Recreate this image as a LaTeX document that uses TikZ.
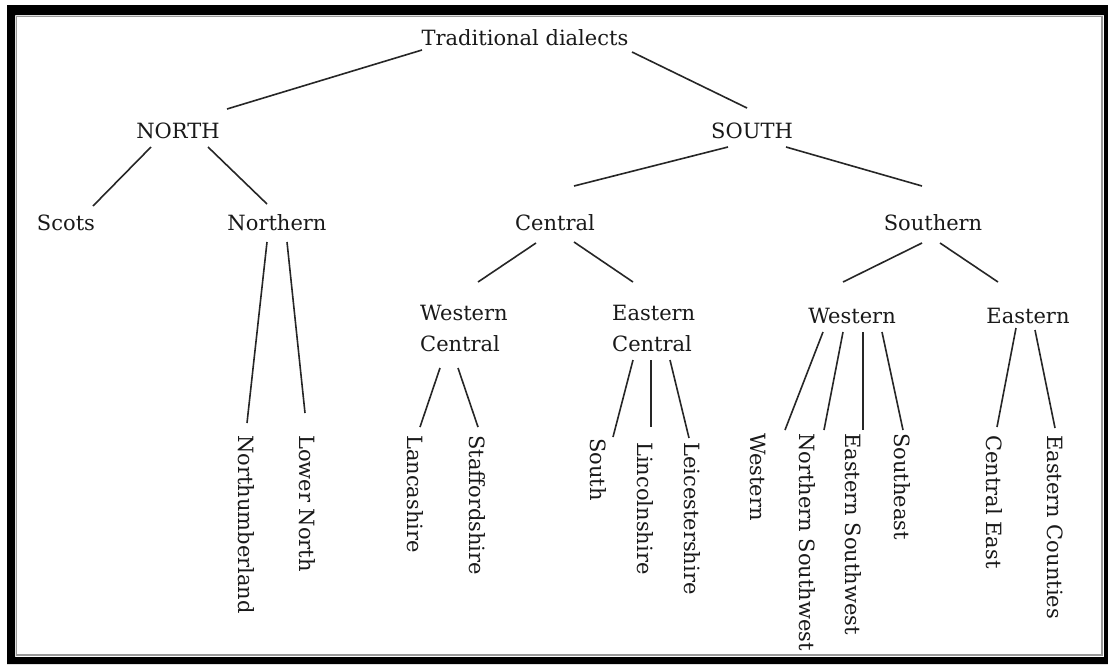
\documentclass[tikz,border=0pt]{standalone}
\usepackage{fontspec}
\setmainfont{DejaVu Serif}
\usetikzlibrary{calc}
\tikzset{
  lbl/.style={inner sep=0pt, anchor=base, text=black!90, font=\fontsize{21}{25}\selectfont},
  two/.style={inner sep=0pt, anchor=north west, align=left, text=black!90, font=\fontsize{21}{31}\selectfont},
  leaf/.style={inner sep=0pt, anchor=west, rotate=-90, text=black!90, font=\fontsize{21}{25}\selectfont},
  edge/.style={draw=black!85, line width=1.6pt}
}
\begin{document}
\begin{tikzpicture}[x=1pt,y=-1pt]
\useasboundingbox (0,0) rectangle (1108,664);
\fill[white] (0,0) rectangle (1108,664);
% frame
\fill[black, even odd rule] (7,5) rectangle (1108,664) (15,15) rectangle (1104,657);
\draw[black!40, line width=1.5pt] (16.5,16.5) rectangle (1102,655);
% nodes
\node[lbl] (trad) at (525,45) {Traditional dialects};
\node[lbl] (north) at (178,138) {NORTH};
\node[lbl] (south) at (752,138) {SOUTH};
\node[lbl] (scots) at (66,230) {Scots};
\node[lbl] (northern) at (277,230) {Northern};
\node[lbl] (central) at (555,230) {Central};
\node[lbl] (southern) at (933,230) {Southern};
\node[two] (wc) at (420,305) {Western\\Central};
\node[two] (ec) at (612,305) {Eastern\\Central};
\node[lbl] (west) at (852,323) {Western};
\node[lbl] (east) at (1028,323) {Eastern};
\node[leaf] (nland) at (246,435) {Northumberland};
\node[leaf] (lnorth) at (307,435) {Lower North};
\node[leaf] (lanc) at (415,435) {Lancashire};
\node[leaf] (staff) at (477,435) {Staffordshire};
\node[leaf] (sth) at (598,438) {South};
\node[leaf] (linc) at (645,442) {Lincolnshire};
\node[leaf] (leic) at (692,442) {Leicestershire};
\node[leaf] (wleaf) at (758,433) {Western};
\node[leaf] (nsw) at (807,433) {Northern Southwest};
\node[leaf] (esw) at (853,433) {Eastern Southwest};
\node[leaf] (se) at (902,433) {Southeast};
\node[leaf] (ce) at (994,435) {Central East};
\node[leaf] (ecs) at (1055,435) {Eastern Counties};
% edges
\draw[edge] ($(trad.base)+(-103,5)$) -- ($(north.base)+(49,-29)$);
\draw[edge] ($(trad.base)+(107,7)$) -- ($(south.base)+(-5,-30)$);
\draw[edge] ($(north.base)+(-27,9)$) -- ($(scots.base)+(27,-24)$);
\draw[edge] ($(north.base)+(30,9)$) -- ($(northern.base)+(-10,-26)$);
\draw[edge] ($(south.base)+(-24,9)$) -- ($(central.base)+(19,-44)$);
\draw[edge] ($(south.base)+(34,9)$) -- ($(southern.base)+(-11,-44)$);
\draw[edge] ($(northern.base)+(-10,12)$) -- ($(nland.west)+(1,-12)$);
\draw[edge] ($(northern.base)+(10,12)$) -- ($(lnorth.west)+(-2,-22)$);
\draw[edge] ($(central.base)+(-19,13)$) -- ($(wc.north west)+(58,-23)$);
\draw[edge] ($(central.base)+(19,12)$) -- ($(ec.north west)+(21,-23)$);
\draw[edge] ($(wc.north west)+(20,63)$) -- ($(lanc.west)+(5,-8)$);
\draw[edge] ($(wc.north west)+(38,63)$) -- ($(staff.west)+(1,-8)$);
\draw[edge] ($(ec.north west)+(21,55)$) -- ($(sth.west)+(15,-1)$);
\draw[edge] ($(ec.north west)+(39,55)$) -- ($(linc.west)+(6,-15)$);
\draw[edge] ($(ec.north west)+(58,55)$) -- ($(leic.west)+(-3,-4)$);
\draw[edge] ($(southern.base)+(-11,13)$) -- ($(west.base)+(-9,-41)$);
\draw[edge] ($(southern.base)+(7,13)$) -- ($(east.base)+(-30,-41)$);
\draw[edge] ($(west.base)+(-29,9)$) -- ($(wleaf.west)+(27,-3)$);
\draw[edge] ($(west.base)+(-9,9)$) -- ($(nsw.west)+(17,-3)$);
\draw[edge] ($(west.base)+(11,9)$) -- ($(esw.west)+(10,-3)$);
\draw[edge] ($(west.base)+(30,9)$) -- ($(se.west)+(1,-3)$);
\draw[edge] ($(east.base)+(-12,5)$) -- ($(ce.west)+(3,-8)$);
\draw[edge] ($(east.base)+(7,7)$) -- ($(ecs.west)+(0,-7)$);
\end{tikzpicture}
\end{document}
